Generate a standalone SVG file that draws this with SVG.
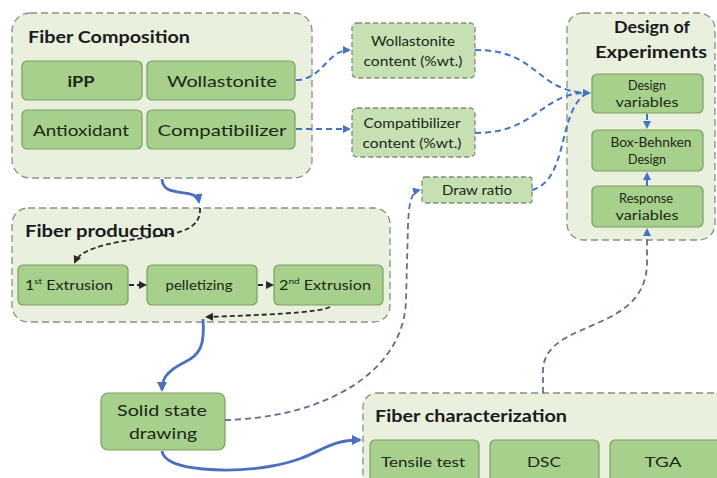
<svg xmlns="http://www.w3.org/2000/svg" width="717" height="478" viewBox="0 0 717 478">
<style>
.cont{fill:#e9f0de;stroke:#8a8f86;stroke-width:1.3;stroke-dasharray:7 4}
.box{fill:#a8d08d;stroke:#7a9e62;stroke-width:1.2}
.dbox{fill:#c6e0b4;stroke:#7f8a78;stroke-width:1.3;stroke-dasharray:5 3}
text{font-family:Lato,"Liberation Sans",sans-serif}
.title{font-weight:bold;font-size:17px;fill:#1b1b1b}
.t{font-size:16px;fill:#1b2714;text-anchor:middle}
.s{font-size:13px;fill:#1b2714;text-anchor:middle}
.bd{stroke:#4472c4;stroke-width:2;fill:none;stroke-dasharray:6 4}
.gd{stroke:#5f6f8f;stroke-width:1.8;fill:none;stroke-dasharray:6 4}
.kd{stroke:#2a2a2a;stroke-width:1.8;fill:none;stroke-dasharray:5 3}
.bs{stroke:#4a6fc0;stroke-width:2.8;fill:none}
</style>
<defs>
<marker id="ab" markerWidth="8" markerHeight="8" refX="6" refY="4" orient="auto" markerUnits="userSpaceOnUse"><path d="M0,0 L8,4 L0,8 Z" fill="#4472c4"/></marker>
<marker id="ak" markerWidth="8" markerHeight="8" refX="6" refY="4" orient="auto" markerUnits="userSpaceOnUse"><path d="M0,0 L8,4 L0,8 Z" fill="#2a2a2a"/></marker>
<marker id="as" markerWidth="10" markerHeight="10" refX="8" refY="5" orient="auto" markerUnits="userSpaceOnUse"><path d="M0,0 L10,5 L0,10 Z" fill="#4a6fc0"/></marker>
</defs>

<g id="fiber-composition">
<rect class="cont" x="12" y="13" width="300" height="165" rx="18"/>
<text class="title" x="28" y="43" textLength="162" lengthAdjust="spacingAndGlyphs">Fiber Composition</text>
</g>
<g id="ipp"><rect class="box" x="22" y="61" width="120" height="39" rx="5"/><text class="t" x="81" y="87" font-weight="bold" textLength="27" lengthAdjust="spacingAndGlyphs">iPP</text></g>
<g id="wollastonite"><rect class="box" x="147" y="61" width="148" height="39" rx="5"/><text class="t" x="222" y="87" textLength="110" lengthAdjust="spacingAndGlyphs">Wollastonite</text></g>
<g id="antioxidant"><rect class="box" x="22" y="110" width="120" height="39" rx="5"/><text class="t" x="81" y="136" textLength="96" lengthAdjust="spacingAndGlyphs">Antioxidant</text></g>
<g id="compatibilizer"><rect class="box" x="147" y="110" width="148" height="39" rx="5"/><text class="t" x="222" y="136" textLength="129" lengthAdjust="spacingAndGlyphs">Compatibilizer</text></g>

<g id="wollastonite-content"><rect class="dbox" x="352" y="23" width="123" height="55" rx="5"/><text class="s" x="413" y="46" textLength="84" lengthAdjust="spacingAndGlyphs">Wollastonite</text><text class="s" x="413" y="66" textLength="99" lengthAdjust="spacingAndGlyphs">content (%wt.)</text></g>
<g id="compatibilizer-content"><rect class="dbox" x="352" y="108" width="123" height="49" rx="5"/><text class="s" x="412" y="128" textLength="97" lengthAdjust="spacingAndGlyphs">Compatibilizer</text><text class="s" x="412" y="148" textLength="99" lengthAdjust="spacingAndGlyphs">content (%wt.)</text></g>
<g id="draw-ratio"><rect class="dbox" x="422" y="177" width="110" height="26" rx="3"/><text class="s" x="477" y="195" textLength="70" lengthAdjust="spacingAndGlyphs">Draw ratio</text></g>

<g id="design-of-experiments">
<rect class="cont" x="567" y="13" width="148" height="227" rx="16"/>
<text class="title" x="652" y="33" text-anchor="middle" textLength="76" lengthAdjust="spacingAndGlyphs">Design of</text>
<text class="title" x="651" y="58" text-anchor="middle" textLength="112" lengthAdjust="spacingAndGlyphs">Experiments</text>
</g>
<g id="design-variables"><rect class="box" x="592" y="74" width="111" height="39" rx="5"/><text class="s" x="647" y="90" textLength="38" lengthAdjust="spacingAndGlyphs">Design</text><text class="s" x="647" y="107" textLength="63" lengthAdjust="spacingAndGlyphs">variables</text></g>
<g id="box-behnken"><rect class="box" x="592" y="130" width="111" height="41" rx="5"/><text class="s" x="651" y="147" textLength="81" lengthAdjust="spacingAndGlyphs">Box-Behnken</text><text class="s" x="647" y="164" textLength="38" lengthAdjust="spacingAndGlyphs">Design</text></g>
<g id="response-variables"><rect class="box" x="592" y="186" width="111" height="41" rx="5"/><text class="s" x="646" y="203" textLength="54" lengthAdjust="spacingAndGlyphs">Response</text><text class="s" x="647" y="220" textLength="63" lengthAdjust="spacingAndGlyphs">variables</text></g>

<g id="fiber-production">
<rect class="cont" x="12" y="208" width="378" height="114" rx="16"/>
<text class="title" x="25" y="237" textLength="150" lengthAdjust="spacingAndGlyphs">Fiber production</text>
</g>
<g id="extrusion1"><rect class="box" x="18" y="265" width="110" height="40" rx="5"/><text class="s" x="69" y="290" font-size="14" textLength="88" lengthAdjust="spacingAndGlyphs">1<tspan font-size="8" dy="-6">st</tspan><tspan dy="6"> Extrusion</tspan></text></g>
<g id="pelletizing"><rect class="box" x="147" y="265" width="110" height="40" rx="5"/><text class="s" x="199" y="290" font-size="14" textLength="67" lengthAdjust="spacingAndGlyphs">pelletizing</text></g>
<g id="extrusion2"><rect class="box" x="274" y="265" width="109" height="40" rx="5"/><text class="s" x="325" y="290" font-size="14" textLength="92" lengthAdjust="spacingAndGlyphs">2<tspan font-size="8" dy="-6">nd</tspan><tspan dy="6"> Extrusion</tspan></text></g>

<g id="solid-state-drawing"><rect class="box" x="101" y="393" width="124" height="57" rx="7"/><text class="t" x="162" y="416" font-size="17" textLength="90" lengthAdjust="spacingAndGlyphs">Solid state</text><text class="t" x="163" y="439" font-size="17" textLength="68" lengthAdjust="spacingAndGlyphs">drawing</text></g>

<g id="fiber-characterization">
<rect class="cont" x="363" y="393" width="370" height="100" rx="14"/>
<text class="title" x="375" y="422" textLength="192" lengthAdjust="spacingAndGlyphs">Fiber characterization</text>
</g>
<g id="tensile"><rect class="box" x="370" y="440" width="109" height="45" rx="5"/><text class="s" x="423" y="467" font-size="14" textLength="84" lengthAdjust="spacingAndGlyphs">Tensile test</text></g>
<g id="dsc"><rect class="box" x="490" y="440" width="109" height="45" rx="5"/><text class="s" x="544" y="467" font-size="15" textLength="34" lengthAdjust="spacingAndGlyphs">DSC</text></g>
<g id="tga"><rect class="box" x="610" y="440" width="115" height="45" rx="5"/><text class="s" x="663" y="467" font-size="15" textLength="37" lengthAdjust="spacingAndGlyphs">TGA</text></g>

<g id="connectors">
<path class="bd" d="M296,80 C322,80 328,50 349,50" marker-end="url(#ab)"/>
<path class="bd" d="M296,129 L349,129" marker-end="url(#ab)"/>
<path class="bd" d="M475,50 C540,50 535,92 589,93" marker-end="url(#ab)"/>
<path class="bd" d="M475,133 C535,133 540,96 582,93"/>
<path class="bd" d="M532,190 C568,180 558,115 584,95"/>
<path class="gd" d="M225,420 C320,418 404,375 406,300 L408,225 C409,200 412,192 419,190" marker-end="url(#ab)"/>
<path class="gd" d="M543,393 L543,370 C545,318 647,335 647,262 L647,230" marker-end="url(#ab)"/>
<path class="bd" d="M647,114 L647,127" marker-end="url(#ab)"/>
<path class="bd" d="M647,186 L647,174" marker-end="url(#ab)"/>
<path class="bs" d="M162,179 C163,200 196,186 199,202" marker-end="url(#as)"/>
<path class="kd" d="M200,208 C201,228 182,232 165,235 C120,241 82,246 75,262" marker-end="url(#ak)"/>
<path class="kd" d="M129,285 L145,285" marker-end="url(#ak)"/>
<path class="kd" d="M258,285 L272,285" marker-end="url(#ak)"/>
<path class="kd" d="M330,307 C318,313 260,315 207,317" marker-end="url(#ak)"/>
<path class="bs" d="M203,319 C205,345 200,355 185,362 C165,372 162,380 162,390" marker-end="url(#as)"/>
<path class="bs" d="M162,451 C165,472 232,473 272,466 C322,457 322,440 360,440" marker-end="url(#as)"/>
</g>
</svg>
